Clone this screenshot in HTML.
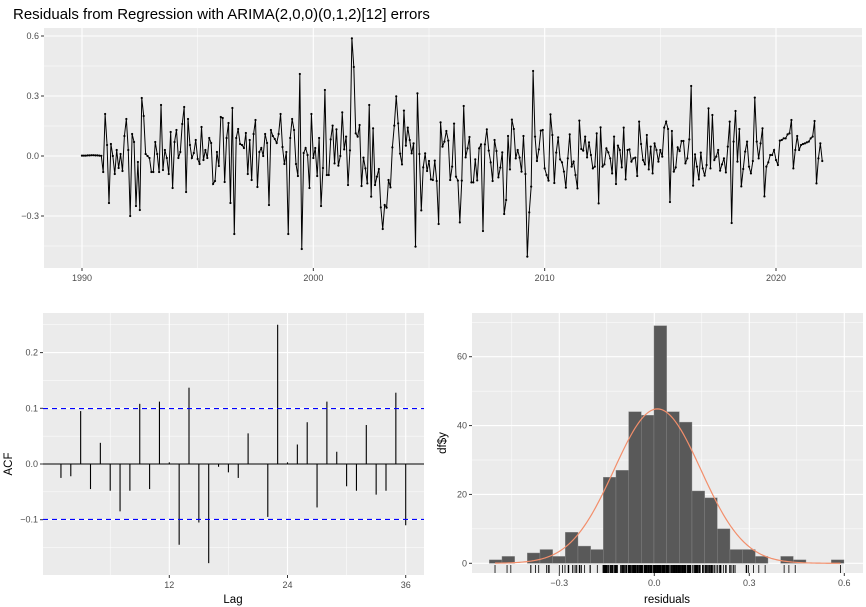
<!DOCTYPE html>
<html><head><meta charset="utf-8"><style>
body{margin:0;background:#fff;}
svg{display:block;font-family:"Liberation Sans",sans-serif;}
</style></head><body>
<svg id="chart" width="866" height="607" viewBox="0 0 866 607">
<text x="13" y="19" font-size="15" fill="#000">Residuals from Regression with ARIMA(2,0,0)(0,1,2)[12] errors</text>
<g id="top"></g>
<g id="acf"></g>
<g id="hist"></g>
</svg>
<script>
const residuals = [0.002,0.002,0.002,0.003,0.003,0.004,0.004,0.003,0.003,0.002,0.001,
-0.08,0.21,0.055,-0.235,0.06,0.0,-0.09,0.03,-0.06,0.01,-0.075,0.1,0.185,0.03,-0.3,0.11,0.07,-0.25,-0.03,-0.27,0.29,0.2,0.01,0.0,-0.01,-0.08,-0.08,0.07,0.01,-0.08,0.255,-0.07,0.03,-0.01,-0.09,0.12,-0.16,0.07,0.13,-0.01,0.02,0.16,0.245,-0.18,0.185,0.055,-0.01,0.015,0.08,-0.015,-0.04,0.145,-0.02,0.03,-0.01,0.09,0.065,-0.14,-0.125,0.02,-0.05,0.195,0.19,-0.13,0.09,0.165,-0.235,0.24,-0.39,0.09,0.135,0.06,0.055,0.04,0.115,-0.09,0.08,-0.12,0.11,0.18,-0.155,0.02,0.04,0,0.11,0.065,-0.245,0.13,0.1,0.085,0.065,0.11,0.21,0.045,-0.04,0.02,-0.39,0.09,0.185,0.13,-0.04,-0.1,0.41,-0.465,0.015,0.04,0.005,-0.16,0.21,-0.01,0.04,-0.1,
0.09,-0.25,-0.06,0.33,-0.095,-0.095,0.083,0.152,-0.037,0.133,-0.048,0.0,0.218,0.033,0.097,-0.145,0.028,0.588,0.445,0.113,0.097,0.155,-0.15,-0.008,-0.062,-0.137,0.255,-0.203,0.138,-0.145,-0.103,-0.065,-0.257,-0.365,-0.245,-0.258,-0.12,-0.157,0.043,0.152,0.298,0.163,0.012,-0.042,0.227,0.052,0.142,0.08,0.013,0.063,-0.453,0.313,0.01,-0.272,-0.057,0.013,-0.075,-0.025,-0.117,-0.12,-0.023,-0.125,-0.34,0.168,0.047,0.072,0.125,0.077,-0.12,-0.053,0.162,-0.103,-0.123,-0.332,-0.123,0.25,-0.007,0.038,0.095,-0.132,-0.132,-0.017,-0.122,0.038,0.058,-0.375,0.058,0.133,0.027,-0.032,-0.125,0.08,0.025,-0.107,-0.058,0.018,-0.29,-0.22,0.1,-0.067,0.182,0.135,-0.012,0.03,-0.008,-0.078,0.1,-0.09,-0.503,-0.282,-0.153,0.425,0.097,-0.025,0.033,0.127,0.13,-0.062,-0.095,-0.123,0.208,0.105,-0.135,0.017,0.093,-0.017,-0.032,-0.078,-0.158,-0.012,0.108,-0.053,-0.028,-0.095,
-0.162,0.177,0.035,0.027,0.097,-0.007,0.068,0.005,-0.062,-0.053,0.113,-0.237,0.143,-0.053,-0.042,0.038,0.018,-0.012,-0.087,0.097,-0.14,0.052,0.03,-0.057,0.142,-0.117,0.03,0.033,-0.028,-0.012,-0.008,-0.1,0.172,0.06,-0.02,-0.042,0.105,-0.067,0.047,-0.087,0.063,0.03,-0.028,0.03,-0.003,0.142,0.172,0.135,-0.23,0.125,-0.078,-0.057,0.043,0.025,0.075,0.075,-0.037,-0.012,0.083,0.35,-0.148,0.008,-0.053,-0.117,0.017,-0.062,-0.098,-0.045,0.238,-0.062,0.205,-0.02,-0.003,0.03,-0.073,-0.042,-0.012,-0.082,0.047,0.172,-0.335,0.072,0.225,-0.028,0.135,-0.152,-0.065,0.022,0.072,-0.053,-0.087,-0.025,0.292,0.072,-0.012,0.063,0.138,-0.202,-0.053,-0.032,0.005,0.005,0.03,-0.02,-0.045,0.077,0.08,0.088,0.088,0.108,0.113,0.18,-0.062,0.03,0.1,0.03,0.055,0.06,0.063,0.068,0.072,0.088,0.097,0.175,-0.137,-0.012,0.063,-0.025];
const startYear = 1990;
const yearTicks = [1990,2000,2010,2020];
const residTicks = [-0.3,0,0.3,0.6];
const residTickLabels = ["-0.3","0.0","0.3","0.6"];

const acfLags = [];
for (let i=1;i<=36;i++) acfLags.push(i);
const acfValues = [-0.025,-0.022,0.095,-0.045,0.038,-0.048,-0.085,-0.048,0.108,-0.045,0.112,0.003,-0.145,0.137,-0.105,-0.178,-0.005,-0.015,-0.025,0.055,0.0,-0.095,0.25,0.003,0.035,0.075,-0.078,0.112,0.022,-0.04,-0.048,0.07,-0.055,-0.048,0.128,-0.11];
const acfCI = 0.0996;
const acfYTicks = [-0.1,0,0.1,0.2];
const acfYLabels = ["-0.1","0.0","0.1","0.2"];
const lagTicks = [12,24,36];

const histBinStart = -0.521;
const histBinWidth = 0.04;
const histCounts = [1,2,0,3,4,2,9,5,4,25,27,44,43,69,44,41,21,19,10,4,4,2,0,2,1,0,0,1];
const histXTicks = [-0.3,0,0.3,0.6];
const histXLabels = ["-0.3","0.0","0.3","0.6"];
const histYTicks = [0,20,40,60];
const normMean = 0.01, normSd = 0.137;

const NS="http://www.w3.org/2000/svg";
function mk(parent, tag, attrs){const e=document.createElementNS(NS,tag);for(const k in attrs)e.setAttribute(k,attrs[k]);parent.appendChild(e);return e;}
function lin(d0,d1,r0,r1){return v=>r0+(v-d0)/(d1-d0)*(r1-r0);}
const TICK="#333", LAB="#4d4d4d";

function panel(g,x0,y0,x1,y1,xs,ys,xMajor,xMinor,yMajor,yMinor){
  const bg=mk(g,'rect',{x:x0,y:y0,width:x1-x0,height:y1-y0,fill:'#ebebeb'});
  
  
  xMinor.forEach(v=>mk(g,'line',{x1:xs(v),x2:xs(v),y1:y0,y2:y1,stroke:'#fff','stroke-width':0.5}));
  yMinor.forEach(v=>mk(g,'line',{x1:x0,x2:x1,y1:ys(v),y2:ys(v),stroke:'#fff','stroke-width':0.5}));
  xMajor.forEach(v=>mk(g,'line',{x1:xs(v),x2:xs(v),y1:y0,y2:y1,stroke:'#fff','stroke-width':1.1}));
  yMajor.forEach(v=>mk(g,'line',{x1:x0,x2:x1,y1:ys(v),y2:ys(v),stroke:'#fff','stroke-width':1.1}));
}
function xLabels(g,vals,labels,xs,y1,name){
  vals.forEach((v,i)=>{mk(g,'line',{x1:xs(v),x2:xs(v),y1:y1,y2:y1+3,stroke:TICK});
    const t=mk(g,'text',{x:xs(v),y:y1+13,'font-size':9,fill:LAB,'text-anchor':'middle'});t.textContent=labels[i];
    
    });
}
function yLabels(g,vals,labels,ys,x0,name){
  vals.forEach((v,i)=>{mk(g,'line',{x1:x0-3,x2:x0,y1:ys(v),y2:ys(v),stroke:TICK});
    const t=mk(g,'text',{x:x0-5,y:ys(v)+3,'font-size':9,fill:LAB,'text-anchor':'end'});t.textContent=labels[i].replace('-','\u2212');
    
    });
}

// TOP
(function(){
  const g=document.getElementById('top');
  const x0=44,x1=862,y0=28,y1=268;
  const xs=lin(1990,2020,82,776), ys=lin(0,0.3,156,96);
  panel(g,x0,y0,x1,y1,xs,ys,yearTicks,[1995,2005,2015],residTicks,[-0.45,-0.15,0.15,0.45]);
  let d='';
  residuals.forEach((v,i)=>{d+=(i?'L':'M')+xs(startYear+i/12).toFixed(2)+','+ys(v).toFixed(2);});
  const p=mk(g,'path',{d:d,fill:'none',stroke:'#000','stroke-width':1});
  
  
  residuals.forEach((v,i)=>{const c=mk(g,'circle',{cx:xs(startYear+i/12),cy:ys(v),r:1.1,fill:'#000'});
    
    });
  xLabels(g,yearTicks,yearTicks.map(String),xs,y1,'x-tick-label');
  yLabels(g,residTicks,residTickLabels,ys,x0,'y-tick-label');
})();

// ACF
(function(){
  const g=document.getElementById('acf');
  const x0=43,x1=424,y0=313,y1=575;
  const xs=lin(12,36,169.3,405.7), ys=lin(0,0.1,464,408.3);
  panel(g,x0,y0,x1,y1,xs,ys,lagTicks,[6,18,30],acfYTicks,[-0.15,-0.05,0.05,0.15,0.25]);
  const z=mk(g,'line',{x1:x0,x2:x1,y1:ys(0),y2:ys(0),stroke:'#000','stroke-width':1});
  
  
  acfLags.forEach((l,i)=>{const b=mk(g,'line',{x1:xs(l),x2:xs(l),y1:ys(0),y2:ys(acfValues[i]),stroke:'#000','stroke-width':1.1});
    
    });
  [acfCI,-acfCI].forEach(c=>{const l=mk(g,'line',{x1:x0,x2:x1,y1:ys(c),y2:ys(c),stroke:'#0000ff','stroke-width':1.1,'stroke-dasharray':'5,4'});
    
    });
  xLabels(g,lagTicks,lagTicks.map(String),xs,y1,'lag-tick-label');
  yLabels(g,acfYTicks,acfYLabels,ys,x0,'acf-tick-label');
  const t=mk(g,'text',{x:233,y:603,'font-size':11.5,'text-anchor':'middle',fill:'#000'});t.textContent='Lag';
  
  
  const a=mk(g,'text',{x:12,y:464,'font-size':11.5,'text-anchor':'middle',fill:'#000',transform:'rotate(-90 12 464)'});a.textContent='ACF';
  
  
})();

// HIST
(function(){
  const g=document.getElementById('hist');
  const x0=472,x1=863,y0=313,y1=573;
  const xs=lin(0,0.3,654.3,749.3), ys=lin(0,60,563.3,356.7);
  panel(g,x0,y0,x1,y1,xs,ys,histXTicks,[-0.45,-0.15,0.15,0.45],histYTicks,[10,30,50,70]);
  histCounts.forEach((c,i)=>{const a=histBinStart+i*histBinWidth;
    const r=mk(g,'rect',{x:xs(a),y:ys(c),width:xs(a+histBinWidth)-xs(a),height:ys(0)-ys(c),fill:'#595959',stroke:'#8c8c8c','stroke-width':0.4});
    
    });
  const n=residuals.length;
  const mn=Math.min(...residuals), mx=Math.max(...residuals);
  let d='';
  for(let k=0;k<=200;k++){const v=mn+(mx-mn)*k/200;
    const y=n*histBinWidth*Math.exp(-0.5*((v-normMean)/normSd)**2)/(normSd*Math.sqrt(2*Math.PI));
    d+=(k?'L':'M')+xs(v).toFixed(2)+','+ys(y).toFixed(2);}
  const cv=mk(g,'path',{d:d,fill:'none',stroke:'#f28e6b','stroke-width':1.2});
  
  
  residuals.forEach(v=>{const r=mk(g,'line',{x1:xs(v),x2:xs(v),y1:y1-8,y2:y1,stroke:'#000','stroke-width':0.8});
    
    });
  xLabels(g,histXTicks,histXLabels.map(s=>s.replace('-','\u2212')),xs,y1,'residual-tick-label');
  yLabels(g,histYTicks,histYTicks.map(String),ys,x0,'count-tick-label');
  const t=mk(g,'text',{x:667,y:603,'font-size':11.5,'text-anchor':'middle',fill:'#000'});t.textContent='residuals';
  
  
  const a=mk(g,'text',{x:446,y:443,'font-size':11.5,'text-anchor':'middle',fill:'#000',transform:'rotate(-90 446 443)'});a.textContent='df$y';
  
  
})();
</script>
</body></html>
